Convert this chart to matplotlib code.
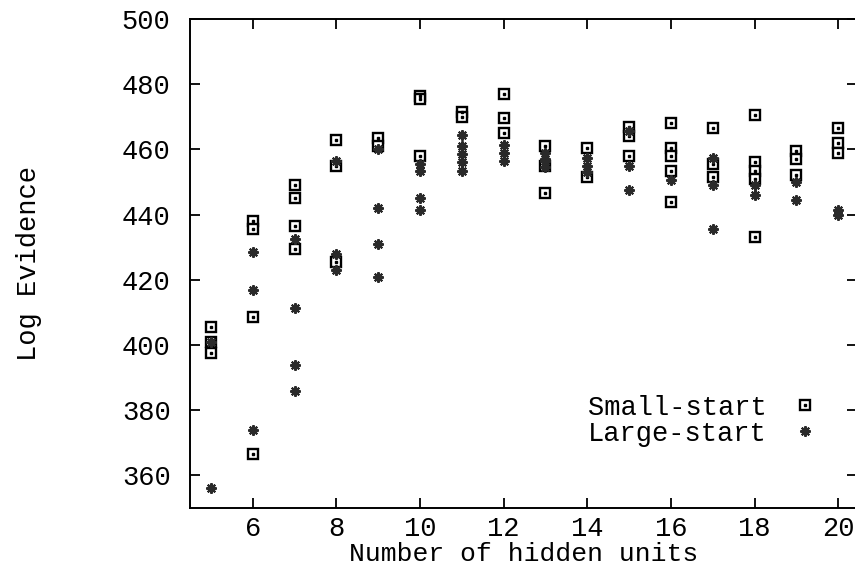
import numpy as np
import matplotlib
matplotlib.use('Agg')
import matplotlib.pyplot as plt
from matplotlib.lines import Line2D

# Log evidence per run, small-start vs large-start initialisation
x_small = [5, 5, 5,
           6, 6, 6, 6,
           7, 7, 7, 7,
           8, 8, 8,
           9, 9,
           10, 10, 10,
           11, 11,
           12, 12, 12,
           13, 13, 13,
           14, 14,
           15, 15, 15,
           16, 16, 16, 16, 16,
           17, 17, 17,
           18, 18, 18, 18, 18,
           19, 19, 19,
           20, 20, 20]
y_small = [405.5, 401, 397.5,
           438, 435.5, 408.5, 366.5,
           449, 445, 436.5, 429.5,
           463, 455, 425.5,
           463.5, 461,
           476.5, 475.5, 458,
           471.5, 470,
           477, 469.5, 465,
           461, 455, 446.5,
           460.5, 451.5,
           467, 464, 458,
           468, 460.5, 458, 453.5, 444,
           466.5, 455.5, 451.5,
           470.5, 456, 453.5, 451, 433,
           459.5, 457, 452,
           466.5, 462, 459]

x_large = [5, 5,
           6, 6, 6,
           7, 7, 7, 7,
           8, 8, 8,
           9, 9, 9, 9,
           10, 10, 10, 10,
           11, 11, 11, 11, 11,
           12, 12, 12,
           13, 13, 13, 13,
           14, 14, 14,
           15, 15, 15,
           16,
           17, 17, 17,
           18, 18,
           19, 19,
           20, 20]
y_large = [401, 356,
           428.5, 417, 374,
           432.5, 411.5, 394, 386,
           456.5, 428, 423,
           460, 442, 431, 421,
           455.5, 453.5, 445, 441.5,
           464.5, 461, 458.5, 456, 453.5,
           461.5, 459, 456.5,
           459, 457, 456.5, 454.5,
           457.5, 455, 453,
           465.5, 455, 447.5,
           450.5,
           457.5, 449, 435.5,
           449, 446,
           450, 444.5,
           441.5, 440]

x_ticks = [6, 8, 10, 12, 14, 16, 18, 20]
y_ticks = [360, 380, 400, 420, 440, 460, 480, 500]

FONT = 'Liberation Mono'
FS = 19.5

fig = plt.figure(figsize=(8.55, 5.67), dpi=100)
ax = fig.add_axes([190 / 855, 1 - 508 / 567, 667 / 855, 489 / 567])

box_style = dict(linestyle='none', marker='s', markersize=6.5,
                 markerfacecolor='white', markeredgecolor='black', markeredgewidth=1.7)
dot_style = dict(linestyle='none', marker='s', markersize=1.6, color='black')
star_style = dict(linestyle='none', marker=(8, 2, 0), markersize=7.5,
                  markeredgecolor='#2a2a2a', markeredgewidth=1.5, color='#2a2a2a')

# small-start: hollow box with a dot in the middle
ax.plot(x_small, y_small, zorder=3, **box_style)
ax.plot(x_small, y_small, zorder=4, **dot_style)
# large-start: asterisk
ax.plot(x_large, y_large, zorder=5, **star_style)

ax.set_xlim(4.5, 20.45)
ax.set_ylim(350, 500)
ax.set_xticks(x_ticks)
ax.set_yticks(y_ticks)
ax.tick_params(direction='in', length=7, width=1.3, top=True, right=True,
               labelsize=FS, color='black')
ax.tick_params(axis='y', pad=14)
ax.tick_params(axis='x', pad=6)
for lab in ax.get_xticklabels() + ax.get_yticklabels():
    lab.set_fontfamily(FONT)
for sp in ax.spines.values():
    sp.set_linewidth(1.4)

ax.set_xlabel('Number of hidden units', fontfamily=FONT, fontsize=19, va='bottom')
ax.xaxis.set_label_coords(0.5, -0.118)
ax.set_ylabel('Log Evidence', fontfamily=FONT, fontsize=FS)
ax.yaxis.set_label_coords(-0.222, 0.5)

h_small = (Line2D([], [], **box_style), Line2D([], [], **dot_style))
h_large = Line2D([], [], **star_style)
ax.legend([h_small, h_large], ['Small-start', 'Large-start'], loc='lower right',
          bbox_to_anchor=(0.962, 0.098), frameon=False, markerfirst=False,
          prop={'family': FONT, 'size': FS}, handletextpad=0.9, labelspacing=0.0,
          handlelength=1.0, borderpad=0)

fig.savefig('out.png', dpi=100)
